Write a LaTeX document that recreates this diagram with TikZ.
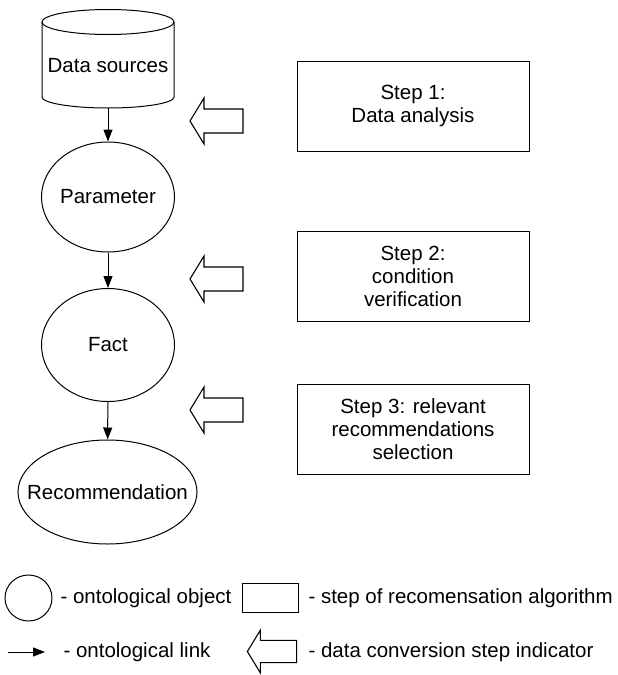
\documentclass[tikz,border=0pt]{standalone}
\usepackage{fontspec}
\setmainfont{Liberation Sans}
\usetikzlibrary{shapes.geometric,arrows.meta}
\begin{document}
\begin{tikzpicture}[x=1pt,y=-1pt,line width=1pt,
  obj/.style={draw,ellipse,inner sep=0pt,font=\fontsize{20.5}{23}\selectfont},
  stepbox/.style={draw,rectangle,minimum width=232pt,minimum height=90pt,align=center,font=\fontsize{20.5}{23}\selectfont},
  link/.style={-{Triangle[length=12pt,width=9pt]}},
  legtext/.style={anchor=west,font=\fontsize{20.5}{23}\selectfont,inner sep=0pt},
  blockarrow/.pic={\draw[line width=1.1pt,line join=miter] (-26.5,0) -- (-12.5,-23) -- (-12.5,-12) -- (26.5,-12) -- (26.5,12) -- (-12.5,12) -- (-12.5,23) -- cycle;}]
\useasboundingbox (0,0) rectangle (618,675);
% cylinder
\draw (42,22) -- (42,97) arc[start angle=180,end angle=360,x radius=66pt,y radius=11pt] -- (174,22);
\draw (108,22) ellipse [x radius=66pt,y radius=12.5pt];
\node[font=\fontsize{20.5}{23}\selectfont] (ds) at (108,66) {Data sources};
\coordinate (dsb) at (108,108);
% objects
\node[obj,minimum width=133pt,minimum height=110pt] (par) at (108,197) {\makebox[0pt]{Parameter}};
\node[obj,minimum width=133pt,minimum height=113pt] (fact) at (108,345) {\makebox[0pt]{Fact}};
\node[obj,minimum width=179pt,minimum height=104pt] (rec) at (107.5,492) {\makebox[0pt]{Recommendation}};
\draw[link] (dsb) -- (par);
\draw[link] (par) -- (fact);
\draw[link] (fact) -- (rec);
% steps
\node[stepbox] (s1) at (413,106) {Step 1:\\Data analysis};
\node[stepbox] (s2) at (413,276) {Step 2:\\condition\\verification};
\node[stepbox] (s3) at (413,429) {Step 3: relevant\\recommendations\\selection};
\pic at (216.5,121) {blockarrow};
\pic at (216.5,279) {blockarrow};
\pic at (216.5,410) {blockarrow};
% legend
\node[draw,ellipse,minimum width=47pt,minimum height=46pt,inner sep=0pt] (lobj) at (28.5,598) {};
\node[legtext] (lt1) at (60,598) {- ontological object};
\node[draw,rectangle,minimum width=56pt,minimum height=29pt,inner sep=0pt] (lstep) at (270,597.5) {};
\node[legtext] (lt2) at (308,598) {- step of recomensation algorithm};
\coordinate (la1) at (8,652);
\coordinate (la2) at (45,652);
\draw[link] (la1) -- (la2);
\node[legtext] (lt3) at (63,652) {- ontological link};
\pic[scale=0.93] at (272,651.5) {blockarrow};
\node[legtext] (lt4) at (308,652) {- data conversion step indicator};
\end{tikzpicture}
\end{document}
